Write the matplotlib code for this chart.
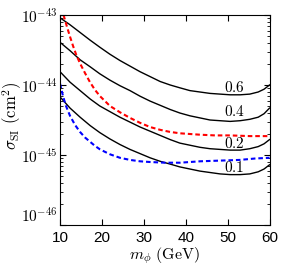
import numpy as np
import matplotlib
matplotlib.use("Agg")
import matplotlib.pyplot as plt
from matplotlib.ticker import FixedLocator, LogLocator, NullLocator, FuncFormatter

plt.rcParams['mathtext.fontset'] = 'cm'
plt.rcParams['font.family'] = ['Liberation Sans', 'DejaVu Sans']

# mass grid for the black curves (GeV)
m_black = [10, 12.4, 14.8, 17.2, 19.5, 21.9, 24.3, 26.7, 29.1, 31.5, 33.9, 36.3,
           38.6, 41.0, 43.4, 45.8, 48.2, 50.6, 53.0, 55.3, 57.3, 58.7, 60]
# log10(sigma_SI / cm^2)
log_06 = [-43.04, -43.14, -43.25, -43.36, -43.46, -43.56, -43.65, -43.73, -43.81, -43.88, -43.95, -44.00,
          -44.04, -44.08, -44.10, -44.12, -44.13, -44.14, -44.14, -44.13, -44.10, -44.06, -44.00]
log_04 = [-43.39, -43.51, -43.64, -43.74, -43.84, -43.93, -44.01, -44.08, -44.16, -44.23, -44.29, -44.35,
          -44.40, -44.44, -44.47, -44.50, -44.51, -44.52, -44.51, -44.49, -44.46, -44.41, -44.33]
log_02 = [-43.81, -43.96, -44.08, -44.20, -44.30, -44.38, -44.46, -44.53, -44.60, -44.66, -44.72, -44.78,
          -44.83, -44.86, -44.89, -44.91, -44.92, -44.93, -44.93, -44.91, -44.88, -44.84, -44.78]
log_01 = [-44.17, -44.33, -44.46, -44.58, -44.68, -44.77, -44.85, -44.92, -44.98, -45.04, -45.09, -45.13,
          -45.17, -45.20, -45.23, -45.25, -45.27, -45.28, -45.28, -45.27, -45.24, -45.20, -45.14]

m_red = [10.84, 11.67, 12.39, 13.10, 13.82, 14.77, 15.97, 17.16, 18.35, 19.55, 20.74, 21.93, 24.32,
         26.71, 29.09, 31.48, 33.87, 36.25, 38.64, 41.03, 43.41, 46.99, 50.57, 55.35, 60]
log_red = [-43.00, -43.17, -43.31, -43.44, -43.56, -43.69, -43.83, -43.96, -44.07, -44.16, -44.23, -44.30, -44.39,
           -44.47, -44.54, -44.60, -44.64, -44.67, -44.69, -44.70, -44.71, -44.72, -44.72, -44.73, -44.73]

m_blue = [10, 10.72, 11.43, 12.39, 13.58, 14.77, 15.97, 17.16, 18.35, 19.55, 21.93, 24.32,
          26.71, 29.09, 31.48, 35.06, 38.64, 43.41, 48.19, 52.96, 56.54, 60]
log_blue = [-43.98, -44.16, -44.30, -44.44, -44.57, -44.67, -44.75, -44.81, -44.87, -44.92, -44.99, -45.04,
            -45.07, -45.09, -45.10, -45.11, -45.11, -45.09, -45.08, -45.07, -45.05, -45.04]

curve_labels = ['0.6', '0.4', '0.2', '0.1']
label_x = 51.6
label_log = [-44.03, -44.38, -44.83, -45.18]

fig = plt.figure(figsize=(2.82, 2.65), dpi=100)
ax = fig.add_axes([0.2128, 0.1509, 0.7429, 0.7925])

for lg in (log_06, log_04, log_02, log_01):
    ax.plot(m_black, 10.0 ** np.array(lg), color='black', lw=1.0)
ax.plot(m_red, 10.0 ** np.array(log_red), color='red', lw=1.5, ls=(0, (2.2, 1.4)))
ax.plot(m_blue, 10.0 ** np.array(log_blue), color='blue', lw=1.5, ls=(0, (2.2, 1.4)))

for txt, lg in zip(curve_labels, label_log):
    ax.text(label_x, 10.0 ** lg, '$' + txt + '$', fontsize=11, ha='center', va='center')

ax.set_yscale('log')
ax.set_xlim(10, 60)
ax.set_ylim(1e-46, 1e-43)

ax.xaxis.set_major_locator(FixedLocator([10, 20, 30, 40, 50, 60]))
ax.xaxis.set_minor_locator(NullLocator())
ax.yaxis.set_major_locator(FixedLocator([1e-46, 1e-45, 1e-44, 1e-43]))
ax.yaxis.set_minor_locator(LogLocator(base=10, subs=np.arange(2, 10)))
ax.yaxis.set_major_formatter(FuncFormatter(
    lambda v, p: r'$\mathsf{10^{%d}}$' % int(round(np.log10(v)))))

ax.tick_params(which='both', direction='in', top=True, right=True, labelsize=11)
ax.tick_params(which='major', length=4, width=0.8)
ax.tick_params(which='minor', length=2, width=0.6)
ax.tick_params(axis='x', pad=4)
ax.tick_params(axis='y', pad=2)
ylabs = ax.get_yticklabels()
for lab in ylabs:
    lab.set_verticalalignment('center_baseline')
# the lowest label sits just above its tick, clear of the x tick "10"
ylabs[0].set_verticalalignment('bottom')

ax.set_xlabel(r'$m_\phi\ \mathrm{(GeV)}$', fontsize=11.5)
ax.set_ylabel(r'$\sigma_{\rm SI}\ \mathrm{(cm^2)}$', fontsize=12)
ax.xaxis.set_label_coords(0.5, -0.095)
ax.yaxis.set_label_coords(-0.17, 0.52)

fig.savefig('out.png', dpi=100)
